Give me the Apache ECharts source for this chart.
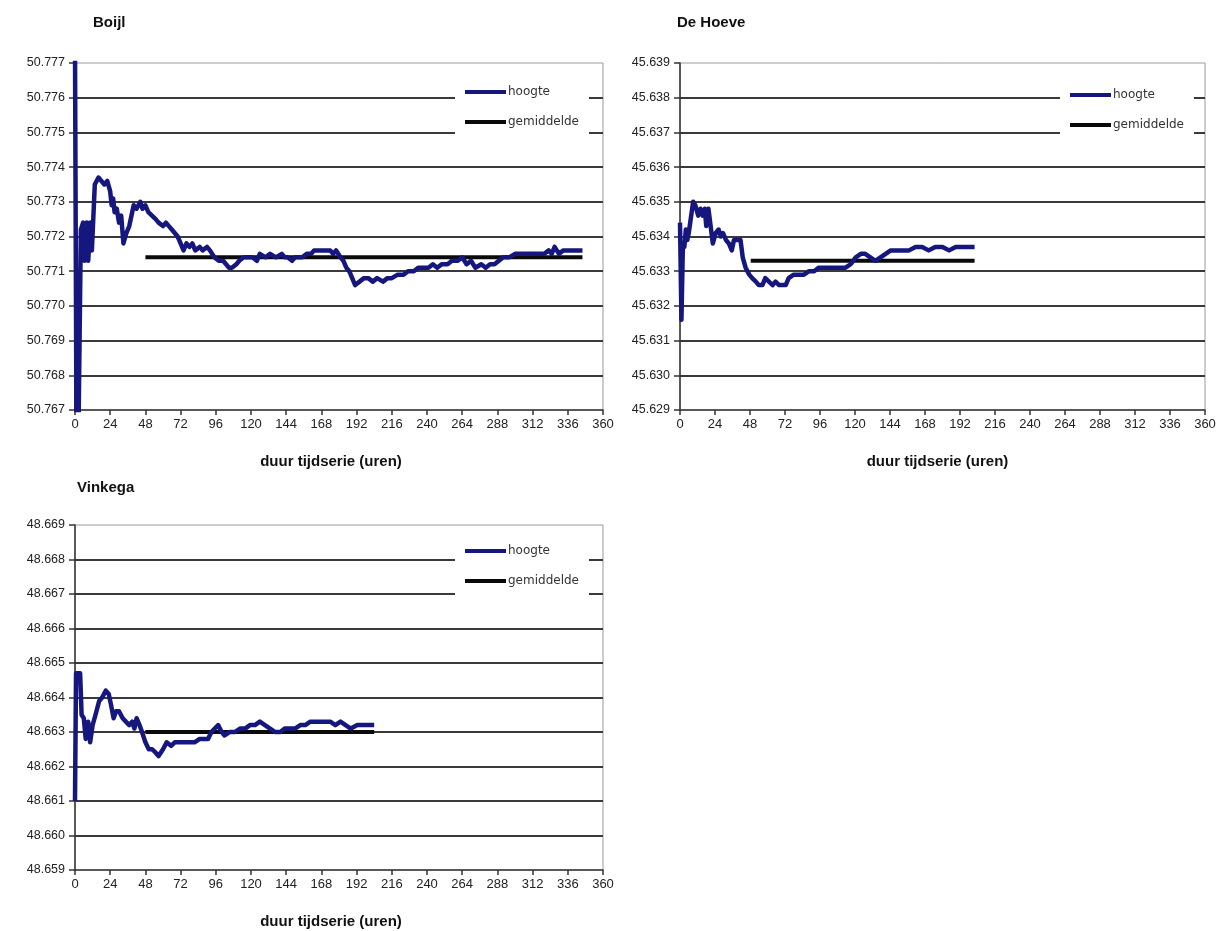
<!DOCTYPE html>
<html>
<head>
<meta charset="utf-8">
<title>Hoogte tijdseries</title>
<script src="https://cdn.jsdelivr.net/npm/echarts@6/dist/echarts.min.js"></script>
<style>
  html, body { margin: 0; padding: 0; background: #ffffff; }
  #chart { width: 1219px; height: 931px; }
</style>
</head>
<body>
<div id="chart"></div>
<script>
// ---- Boijl ----
const boijlHours = [0, 1, 2.5, 4, 5.5, 6.5, 8, 9, 10.5, 11.5, 13.5, 16, 18, 20, 22, 24, 25, 26, 27, 28.5, 30, 31.5, 33, 35, 37, 39, 40, 42, 44.5, 46, 48, 50, 52.5, 55, 57, 60, 62, 64, 66, 68, 70, 72, 74, 76, 78, 80, 82, 85, 87, 90, 92, 95, 98, 101, 103, 105, 107, 110, 112, 115, 118, 121, 124, 126, 130, 133, 137, 141, 143, 145, 148, 150, 155, 158, 161, 163, 166, 170, 174, 176, 178, 181, 183, 185, 187, 189, 191, 194, 197, 200, 203, 206, 210, 213, 216, 220, 224, 227, 231, 234, 238, 241, 244, 247, 250, 254, 257, 261, 264, 267, 270, 273, 277, 280, 283, 286, 289, 292, 296, 300, 304, 308, 312, 316, 320, 323, 325, 327, 330, 333, 336, 340, 343, 346];
const boijlHoogte = [50.7775, 50.7665, 50.7668, 50.7722, 50.7724, 50.7713, 50.7724, 50.7713, 50.7724, 50.7716, 50.7735, 50.7737, 50.7736, 50.7735, 50.7736, 50.7733, 50.7729, 50.7731, 50.7727, 50.7728, 50.7724, 50.7726, 50.7718, 50.7721, 50.7723, 50.7727, 50.7729, 50.7728, 50.7730, 50.7728, 50.7729, 50.7727, 50.7726, 50.7725, 50.7724, 50.7723, 50.7724, 50.7723, 50.7722, 50.7721, 50.7720, 50.7718, 50.7716, 50.7718, 50.7717, 50.7718, 50.7716, 50.7717, 50.7716, 50.7717, 50.7716, 50.7714, 50.7713, 50.7713, 50.7712, 50.7711, 50.7711, 50.7712, 50.7713, 50.7714, 50.7714, 50.7714, 50.7713, 50.7715, 50.7714, 50.7715, 50.7714, 50.7715, 50.7714, 50.7714, 50.7713, 50.7714, 50.7714, 50.7715, 50.7715, 50.7716, 50.7716, 50.7716, 50.7716, 50.7715, 50.7716, 50.7714, 50.7713, 50.7711, 50.7710, 50.7708, 50.7706, 50.7707, 50.7708, 50.7708, 50.7707, 50.7708, 50.7707, 50.7708, 50.7708, 50.7709, 50.7709, 50.7710, 50.7710, 50.7711, 50.7711, 50.7711, 50.7712, 50.7711, 50.7712, 50.7712, 50.7713, 50.7713, 50.7714, 50.7712, 50.7713, 50.7711, 50.7712, 50.7711, 50.7712, 50.7712, 50.7713, 50.7714, 50.7714, 50.7715, 50.7715, 50.7715, 50.7715, 50.7715, 50.7715, 50.7716, 50.7715, 50.7717, 50.7715, 50.7716, 50.7716, 50.7716, 50.7716, 50.7716];
const boijlMeanHours = [48, 346];
const boijlMean = [50.7714, 50.7714];
const boijlTicks = [50.767, 50.777];

// ---- De Hoeve ----
const hoeveHours = [0, 1, 2, 3, 4, 5, 6, 7, 8, 9, 10.5, 12.5, 14, 15.5, 17, 18, 19.5, 21, 22.5, 24.5, 26.5, 28, 29.5, 31.5, 33.5, 35.5, 37, 39.5, 41.5, 43, 45, 47.5, 49.5, 52, 54, 56.5, 58.5, 61, 63.5, 65.5, 68, 70, 72.5, 74.5, 78, 81.5, 85, 88.5, 92, 95, 100, 104.5, 109, 113.5, 117, 120.5, 124, 127, 130.5, 134, 137.5, 141, 144.5, 148, 152.5, 157, 161.5, 166, 170.5, 175, 180, 184.5, 189, 193.5, 198, 202];
const hoeveHoogte = [45.6344, 45.6316, 45.6338, 45.6337, 45.6342, 45.6339, 45.6341, 45.6344, 45.6347, 45.6350, 45.6349, 45.6346, 45.6348, 45.6346, 45.6348, 45.6343, 45.6348, 45.6343, 45.6338, 45.6341, 45.6342, 45.6340, 45.6341, 45.6339, 45.6338, 45.6336, 45.6339, 45.6339, 45.6339, 45.6334, 45.6331, 45.6329, 45.6328, 45.6327, 45.6326, 45.6326, 45.6328, 45.6327, 45.6326, 45.6327, 45.6326, 45.6326, 45.6326, 45.6328, 45.6329, 45.6329, 45.6329, 45.6330, 45.6330, 45.6331, 45.6331, 45.6331, 45.6331, 45.6331, 45.6332, 45.6334, 45.6335, 45.6335, 45.6334, 45.6333, 45.6334, 45.6335, 45.6336, 45.6336, 45.6336, 45.6336, 45.6337, 45.6337, 45.6336, 45.6337, 45.6337, 45.6336, 45.6337, 45.6337, 45.6337, 45.6337];
const hoeveMeanHours = [48.5, 202];
const hoeveMean = [45.6333, 45.6333];
const hoeveTicks = [45.629, 45.639];

// ---- Vinkega ----
const vinkegaHours = [0, 0.7, 2, 3.5, 4.5, 6, 7.3, 9, 10.3, 12, 14, 16.5, 18.5, 21, 23, 24.5, 26.3, 28, 30, 32.5, 34.7, 37, 39, 40.5, 42, 44, 45.7, 48, 50.3, 52.6, 55, 57, 60, 62.5, 65.5, 68, 71.3, 74.7, 78, 81.5, 85, 88.5, 90.7, 93, 95.3, 97.6, 100, 102, 105.5, 109, 112.5, 116, 119.3, 122.7, 126, 129.5, 133, 136.5, 140, 143, 146.7, 150, 153.6, 157, 160.5, 165, 169.5, 174, 177.5, 181, 184.5, 188, 192.5, 197, 201.5, 204];
const vinkegaHoogte = [48.6610, 48.6647, 48.6647, 48.6647, 48.6635, 48.6634, 48.6628, 48.6633, 48.6627, 48.6632, 48.6635, 48.6639, 48.6640, 48.6642, 48.6641, 48.6638, 48.6634, 48.6636, 48.6636, 48.6634, 48.6633, 48.6632, 48.6633, 48.6631, 48.6634, 48.6632, 48.6630, 48.6627, 48.6625, 48.6625, 48.6624, 48.6623, 48.6625, 48.6627, 48.6626, 48.6627, 48.6627, 48.6627, 48.6627, 48.6627, 48.6628, 48.6628, 48.6628, 48.6630, 48.6631, 48.6632, 48.6630, 48.6629, 48.6630, 48.6630, 48.6631, 48.6631, 48.6632, 48.6632, 48.6633, 48.6632, 48.6631, 48.6630, 48.6630, 48.6631, 48.6631, 48.6631, 48.6632, 48.6632, 48.6633, 48.6633, 48.6633, 48.6633, 48.6632, 48.6633, 48.6632, 48.6631, 48.6632, 48.6632, 48.6632, 48.6632];
const vinkegaMeanHours = [48, 204];
const vinkegaMean = [48.6630, 48.6630];
const vinkegaTicks = [48.659, 48.669];

// shared x-axis scale (hours)
const hourRange = [0, 360];
const hourStep = 24;
const heightStep = 0.001;

const seriesNames = ['hoogte', 'gemiddelde'];
const panelTitles = ['Boijl', 'De Hoeve', 'Vinkega'];
const xAxisTitle = 'duur tijdserie (uren)';

const FONT = '"Liberation Sans", Arial, sans-serif';
const LEGEND_FONT = '"DejaVu Sans", Verdana, sans-serif';
const BLUE = '#16167f';
const BLACK = '#0a0a0a';

function zip(xs, ys) {
  return xs.map((x, i) => [x, ys[i]]);
}

const panels = [
  { hours: boijlHours, hoogte: boijlHoogte, mHours: boijlMeanHours, mean: boijlMean, ticks: boijlTicks,
    grid: { left: 75, top: 63, width: 528, height: 347 }, legend: { left: 455, top: 78 },
    title: { left: 93, top: 15 }, nameShift: 16 },
  { hours: hoeveHours, hoogte: hoeveHoogte, mHours: hoeveMeanHours, mean: hoeveMean, ticks: hoeveTicks,
    grid: { left: 680, top: 63, width: 525, height: 347 }, legend: { left: 1060, top: 81 },
    title: { left: 677, top: 15 }, nameShift: 10 },
  { hours: vinkegaHours, hoogte: vinkegaHoogte, mHours: vinkegaMeanHours, mean: vinkegaMean, ticks: vinkegaTicks,
    grid: { left: 75, top: 525, width: 528, height: 345 }, legend: { left: 455, top: 537 },
    title: { left: 77, top: 480 }, nameShift: 16 }
];

const option = {
  backgroundColor: '#ffffff',
  animation: false,
  title: panels.map((p, i) => ({
    text: panelTitles[i],
    left: p.title.left,
    top: p.title.top,
    padding: 0,
    textStyle: { fontFamily: FONT, fontSize: 15, fontWeight: 'bold', color: '#111' }
  })),
  legend: panels.map(p => ({
    data: seriesNames,
    orient: 'vertical',
    left: p.legend.left,
    top: p.legend.top,
    icon: 'rect',
    itemWidth: 41,
    itemHeight: 4,
    itemGap: 18,
    padding: [8, 10, 16, 10],
    backgroundColor: '#ffffff',
    selectedMode: false,
    textStyle: { fontFamily: LEGEND_FONT, fontSize: 12, color: '#333', padding: [0, 0, 0, -3] }
  })),
  grid: panels.map(p => Object.assign({
    show: true,
    borderColor: '#9a9a9a',
    borderWidth: 1,
    containLabel: false,
    outerBoundsMode: 'none'
  }, p.grid)),
  xAxis: panels.map((p, i) => ({
    type: 'value',
    gridIndex: i,
    min: hourRange[0],
    max: hourRange[1],
    interval: hourStep,
    name: xAxisTitle,
    nameLocation: 'middle',
    nameGap: 44,
    nameTextStyle: {
      fontFamily: FONT, fontSize: 15, fontWeight: 'bold', color: '#111',
      padding: [0, p.nameShift, 0, 0]
    },
    axisLine: { show: true, onZero: false, lineStyle: { color: '#333', width: 1.5 } },
    axisTick: { show: true, length: 5, lineStyle: { color: '#333', width: 1.5 } },
    axisLabel: { fontFamily: FONT, fontSize: 13, color: '#222', margin: 8 },
    splitLine: { show: false }
  })),
  yAxis: panels.map((p, i) => ({
    type: 'value',
    gridIndex: i,
    min: p.ticks[0],
    max: p.ticks[1],
    interval: heightStep,
    axisLine: { show: true, lineStyle: { color: '#333', width: 1.5 } },
    axisTick: { show: true, length: 6, lineStyle: { color: '#333', width: 1.5 } },
    axisLabel: {
      fontFamily: FONT, fontSize: 12.5, color: '#222', margin: 10,
      formatter: v => v.toFixed(3)
    },
    splitLine: {
      show: true,
      showMinLine: false,
      showMaxLine: false,
      lineStyle: { color: '#3a3a3a', width: 2 }
    }
  })),
  series: panels.flatMap((p, i) => [
    {
      name: seriesNames[0],
      type: 'line',
      xAxisIndex: i,
      yAxisIndex: i,
      data: zip(p.hours, p.hoogte),
      color: BLUE,
      showSymbol: false,
      clip: true,
      lineStyle: { color: BLUE, width: 4.5, join: 'round' },
      z: 3
    },
    {
      name: seriesNames[1],
      type: 'line',
      xAxisIndex: i,
      yAxisIndex: i,
      data: zip(p.mHours, p.mean),
      color: BLACK,
      showSymbol: false,
      clip: true,
      lineStyle: { color: BLACK, width: 4 },
      z: 2
    }
  ])
};

const chart = echarts.init(document.getElementById('chart'), null, { renderer: 'canvas' });
chart.setOption(option);
</script>
</body>
</html>
